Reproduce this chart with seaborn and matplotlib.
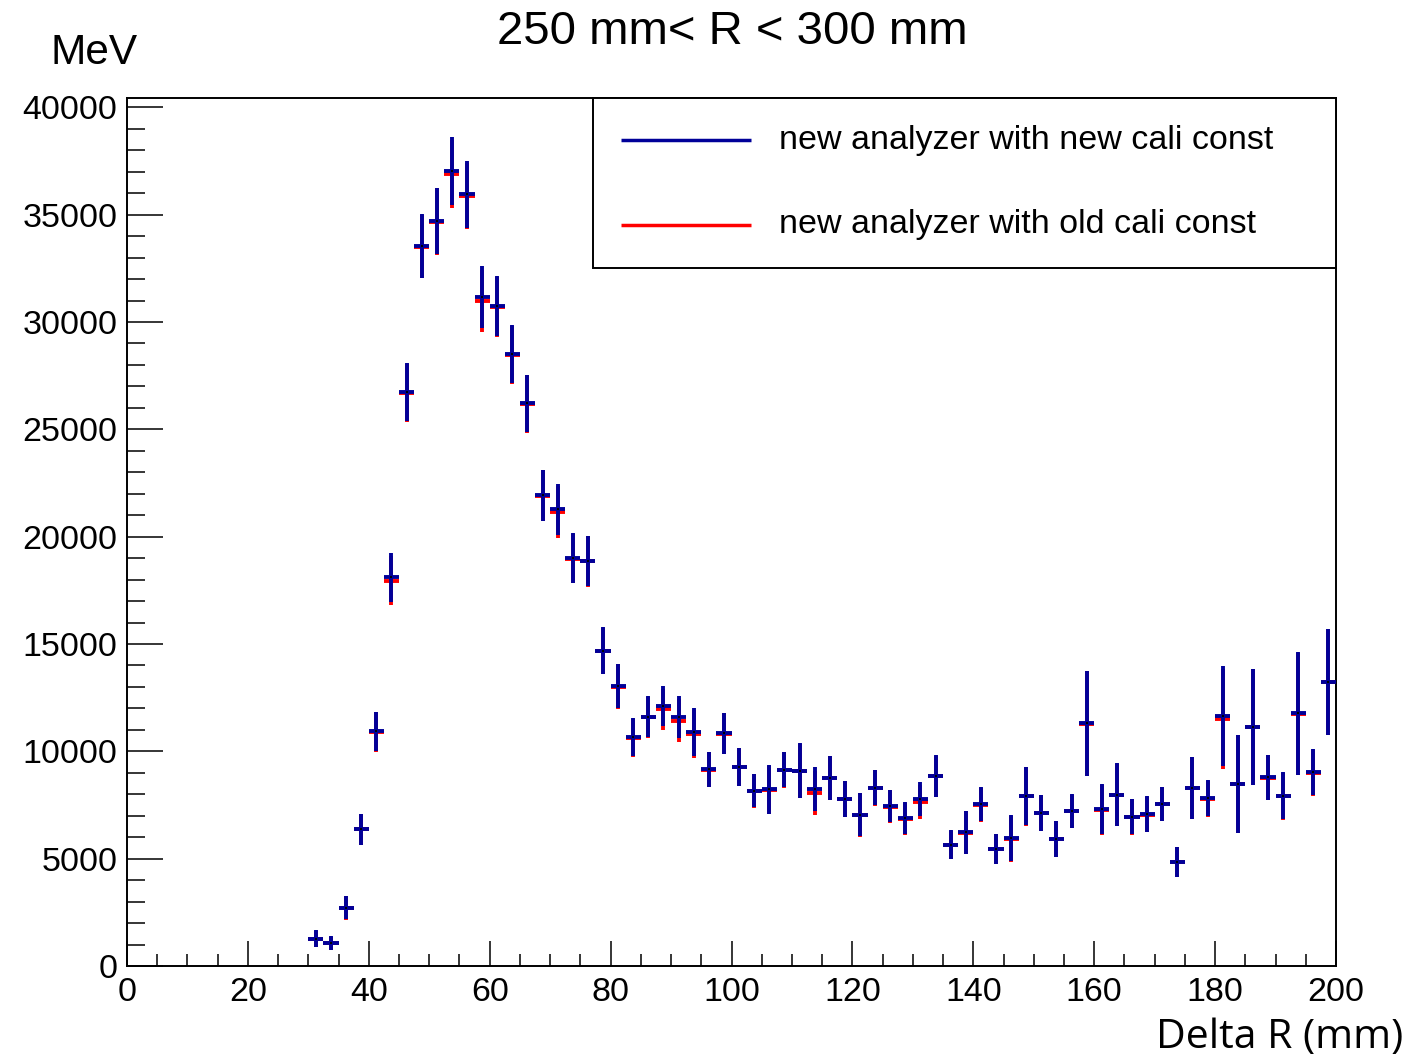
import numpy as np
import pandas as pd
import matplotlib
matplotlib.use("Agg")
import matplotlib.pyplot as plt
from matplotlib.ticker import MultipleLocator
from matplotlib.patches import Rectangle
import seaborn as sns

# ---- data (bin width 2.5 mm) ----
bin_centers = [31.25 + 2.5 * i for i in range(68)]
blue_vals = [1270, 1070, 2720, 6370, 10930, 18120, 26740, 33550, 34700, 37020,
             35950, 31180, 30750, 28500, 26210, 21930, 21270, 19010, 18870, 14690,
             13040, 10650, 11610, 12110, 11590, 10900, 9160, 10840, 9280, 8170,
             8230, 9150, 9100, 8230, 8770, 7780, 7050, 8310, 7450, 6880,
             7780, 8850, 5650, 6230, 7530, 5450, 5950, 7920, 7140, 5930,
             7220, 11310, 7300, 7980, 6960, 7070, 7550, 4860, 8310, 7810,
             11650, 8480, 11150, 8790, 7930, 11770, 9020, 13240]
blue_errs = [390, 310, 550, 730, 920, 1140, 1340, 1480, 1550, 1580,
             1550, 1440, 1400, 1340, 1330, 1190, 1200, 1160, 1180, 1090,
             1040, 890, 960, 940, 990, 1120, 830, 950, 890, 780,
             1130, 830, 1270, 1030, 1030, 840, 1010, 820, 750, 750,
             800, 960, 670, 990, 790, 690, 1070, 1370, 830, 830,
             780, 2450, 1170, 1460, 820, 830, 790, 700, 1440, 840,
             2330, 2280, 2700, 1050, 1090, 2850, 1070, 2460]
red_vals = [1260, 1060, 2710, 6360, 10910, 17950, 26700, 33510, 34680, 36910,
            35870, 30980, 30720, 28470, 26180, 21900, 21150, 18980, 18850, 14670,
            13020, 10630, 11590, 11955, 11435, 10820, 9150, 10820, 9260, 8150,
            8210, 9130, 9080, 8045, 8750, 7760, 7030, 8290, 7430, 6860,
            7625, 8830, 5640, 6210, 7510, 5440, 5930, 7900, 7120, 5910,
            7200, 11290, 7280, 7960, 6940, 7050, 7530, 4850, 8290, 7790,
            11495, 8460, 11130, 8770, 7910, 11750, 9000, 13220]
red_errs = blue_errs

title = "250 mm< R < 300 mm"
ylabel = "MeV"
xlabel = "Delta R (mm)"
legend_labels = ["new analyzer with new cali const", "new analyzer with old cali const"]

BLUE = "#000099"
RED = "#ff0000"

sns.set_theme(style="white")
plt.rcParams["font.family"] = ["Liberation Sans", "DejaVu Sans"]
plt.rcParams["text.color"] = "black"
plt.rcParams["xtick.color"] = "black"
plt.rcParams["ytick.color"] = "black"

fig = plt.figure(figsize=(14.09, 10.58), dpi=100)
ax = fig.add_axes([127 / 1409, 1 - 966 / 1058, (1336 - 127) / 1409, (966 - 97.7) / 1058])

df_blue = pd.DataFrame({"x": bin_centers, "y": blue_vals, "e": blue_errs})
df_red = pd.DataFrame({"x": bin_centers, "y": red_vals, "e": red_errs})

ax.errorbar(df_red["x"], df_red["y"], xerr=1.25, yerr=df_red["e"], fmt="none",
            ecolor=RED, elinewidth=2.8, capsize=0, zorder=2)
ax.errorbar(df_blue["x"], df_blue["y"], xerr=1.25, yerr=df_blue["e"], fmt="none",
            ecolor=BLUE, elinewidth=2.8, capsize=0, zorder=3)
sns.scatterplot(data=df_blue, x="x", y="y", ax=ax, color="black", s=2,
                marker="s", linewidth=0, zorder=4, legend=False)

ax.set_xlim(0, 200)
ax.set_ylim(0, 40450)
ax.set_xlabel("")
ax.set_ylabel("")

ax.xaxis.set_major_locator(MultipleLocator(20))
ax.xaxis.set_minor_locator(MultipleLocator(5))
ax.yaxis.set_major_locator(MultipleLocator(5000))
ax.yaxis.set_minor_locator(MultipleLocator(1000))
ax.tick_params(axis="x", which="major", direction="in", length=18, width=1.1,
               bottom=True, top=False, labelsize=24.5, pad=8, colors="black")
ax.tick_params(axis="x", which="minor", direction="in", length=8.6, width=1.1,
               bottom=True, top=False)
ax.tick_params(axis="y", which="major", direction="in", length=26, width=1.1,
               left=True, right=False, labelsize=24.5, pad=7, colors="black")
ax.tick_params(axis="y", which="minor", direction="in", length=13, width=1.1,
               left=True, right=False)
for s in ax.spines.values():
    s.set_color("black")
    s.set_linewidth(1.4)
ax.grid(False)

# legend box (ROOT style)
lx0 = (593 - 127) / 1209
ly0 = (966 - 268) / 868.3
ax.add_patch(Rectangle((lx0, ly0), 1 - lx0, 1 - ly0, transform=ax.transAxes,
                       facecolor="white", edgecolor="black", linewidth=1.4,
                       zorder=5, clip_on=False))
for col, yy, lab in [(BLUE, (966 - 140) / 868.3, legend_labels[0]),
                     (RED, (966 - 225) / 868.3, legend_labels[1])]:
    ax.plot([(621 - 127) / 1209, (751 - 127) / 1209], [yy, yy], color=col,
            linewidth=2.5, transform=ax.transAxes, zorder=6, solid_capstyle="butt")
    ax.text((779 - 127) / 1209, yy, lab, transform=ax.transAxes, fontsize=24.5,
            va="center", ha="left", color="black", zorder=6)

fig.text(732 / 1409, 1 - 44 / 1058, title, ha="center", va="baseline", fontsize=34,
         color="black")
fig.text(50 / 1409, 1 - 64 / 1058, ylabel, ha="left", va="baseline", fontsize=30.5,
         color="black")
fig.text(1403 / 1409, 1 - 1047.5 / 1058, xlabel, ha="right", va="baseline", fontsize=29.5,
         family=["Open Sans", "DejaVu Sans"], color="black")

fig.savefig("out.png", dpi=100)
